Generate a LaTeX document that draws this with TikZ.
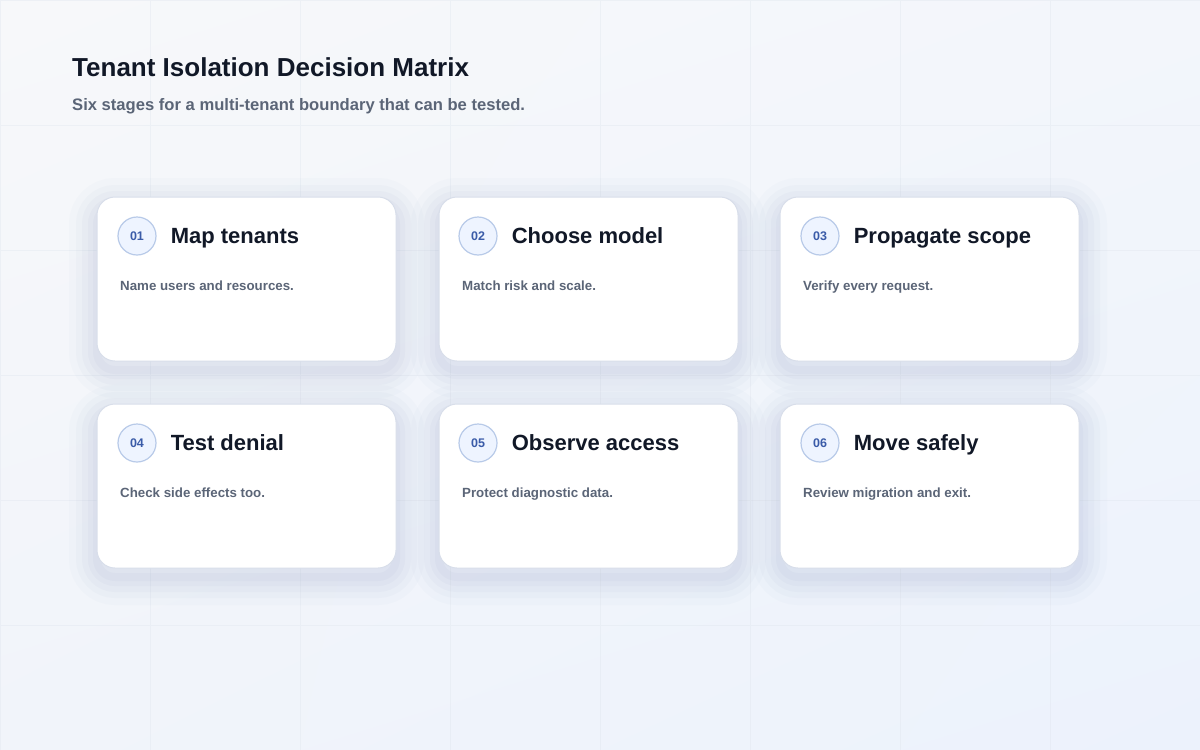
\documentclass[tikz,border=0pt]{standalone}
\usepackage{fontspec}
\setmainfont{Liberation Sans}
\usetikzlibrary{positioning,shadings}
\definecolor{ink}{HTML}{111827}
\definecolor{muted}{HTML}{5B6577}
\definecolor{numblue}{HTML}{3A5BA8}
\definecolor{ringfill}{HTML}{EEF4FF}
\definecolor{ringline}{HTML}{B8CAE8}
\definecolor{cardline}{HTML}{D8DEEA}
\definecolor{bgtl}{HTML}{F7F8FA}
\definecolor{bgtr}{HTML}{F3F6FB}
\definecolor{bgbl}{HTML}{F1F4FA}
\definecolor{bgbr}{HTML}{ECF2FC}
\definecolor{gridc}{HTML}{DDE3EC}
\definecolor{shadowc}{HTML}{6A78A8}
\tikzset{
	soft/.style n args={2}{preaction={draw=shadowc, line width=#1, draw opacity=#2, transform canvas={yshift=-9pt}}},
	card/.style={draw=cardline, line width=1pt, fill=white, rounded corners=18pt, minimum width=299pt, minimum height=164pt, inner sep=0pt,
		soft={56pt}{0.025}, soft={42pt}{0.03}, soft={30pt}{0.035}, soft={18pt}{0.04}, soft={8pt}{0.04}},
	stepnum/.style={circle, draw=ringline, line width=1.2pt, fill=ringfill, minimum size=38pt, inner sep=0pt, text=numblue, font=\fontsize{12.5}{14}\selectfont\bfseries},
	stephead/.style={inner sep=0pt, text height=18pt, text depth=4pt, text=ink, font=\fontsize{22}{26}\selectfont\bfseries},
	stepnote/.style={anchor=base west, inner sep=0pt, text=muted, font=\fontsize{13.3}{15}\selectfont\bfseries}
}
\begin{document}
\begin{tikzpicture}[x=1pt, y=-1pt]
	\useasboundingbox (0,0) rectangle (1200,750);
	\shade[upper left=bgtl, upper right=bgtr, lower left=bgbl, lower right=bgbr] (0,0) rectangle (1200,750);
	\draw[gridc, line width=0.8pt, opacity=0.35, xstep=150pt, ystep=125pt] (0,0) grid (1200,750);
	\node[anchor=base west, inner sep=0pt, text=ink, font=\fontsize{26}{30}\selectfont\bfseries] (title) at (72,76) {Tenant Isolation Decision Matrix};
	\node[anchor=base west, inner sep=0pt, text=muted, font=\fontsize{16.6}{19}\selectfont\bfseries] (subtitle) at (72,110) {Six stages for a multi-tenant boundary that can be tested.};
	% first row
	\node[card] (card1) at (246.5,279) {};
	\node[card] (card2) at (588.5,279) {};
	\node[card] (card3) at (929.5,279) {};
	\node[stepnum] (num1) at (137,236) {01};
	\node[stepnum] (num2) at (478,236) {02};
	\node[stepnum] (num3) at (820,236) {03};
	\node[stephead, right=14pt of num1] (head1) {Map tenants};
	\node[stephead, right=14pt of num2] (head2) {Choose model};
	\node[stephead, right=14pt of num3] (head3) {Propagate scope};
	\node[stepnote] (note1) at (120,290) {Name users and resources.};
	\node[stepnote] (note2) at (462,290) {Match risk and scale.};
	\node[stepnote] (note3) at (803,290) {Verify every request.};
	% second row
	\node[card] (card4) at (246.5,486) {};
	\node[card] (card5) at (588.5,486) {};
	\node[card] (card6) at (929.5,486) {};
	\node[stepnum] (num4) at (137,443) {04};
	\node[stepnum] (num5) at (478,443) {05};
	\node[stepnum] (num6) at (820,443) {06};
	\node[stephead, right=14pt of num4] (head4) {Test denial};
	\node[stephead, right=14pt of num5] (head5) {Observe access};
	\node[stephead, right=14pt of num6] (head6) {Move safely};
	\node[stepnote] (note4) at (120,497) {Check side effects too.};
	\node[stepnote] (note5) at (462,497) {Protect diagnostic data.};
	\node[stepnote] (note6) at (803,497) {Review migration and exit.};
\end{tikzpicture}
\end{document}
